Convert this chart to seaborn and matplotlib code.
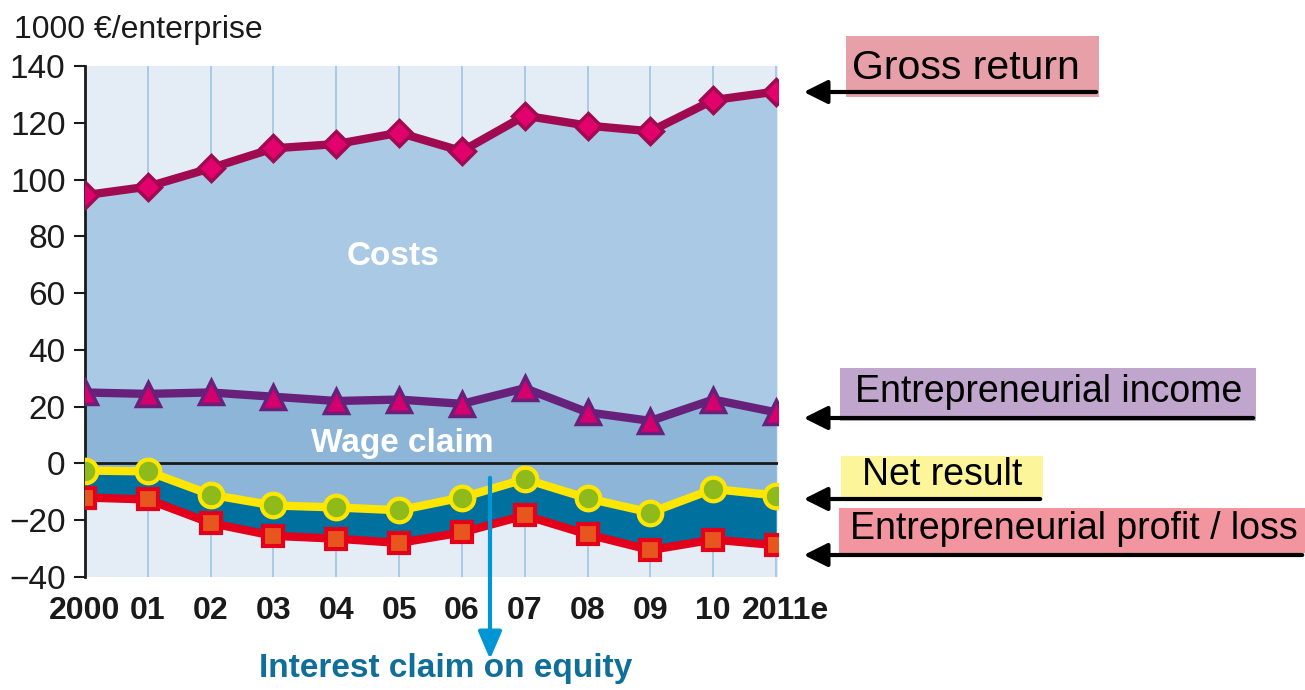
import numpy as np
import pandas as pd
import matplotlib
matplotlib.use("Agg")
import matplotlib.pyplot as plt
import matplotlib.transforms as mtransforms
import seaborn as sns
from matplotlib.patches import Rectangle, FancyArrowPatch

years = ["2000", "01", "02", "03", "04", "05", "06", "07", "08", "09", "10", "2011e"]
gross_return = [94.5, 97.5, 104, 111, 112.5, 116.5, 110, 122.5, 119, 117, 128, 131]
entrepreneurial_income = [25, 24.5, 25, 23.5, 22, 22.5, 21, 26.5, 18, 15, 22.5, 18]
net_result = [-2.5, -2.8, -11, -14.8, -15.5, -16.5, -12, -5.5, -12.3, -17.3, -9, -11.3]
profit_loss = [-12, -12.7, -21, -25.5, -26.5, -28, -24.3, -18.3, -25, -30.5, -26.8, -28.8]
y_ticks = [-40, -20, 0, 20, 40, 60, 80, 100, 120, 140]

df = pd.DataFrame({
    "x": np.arange(len(years)),
    "gross": gross_return,
    "income": entrepreneurial_income,
    "net": net_result,
    "profit": profit_loss,
})

sns.set_style("ticks")
plt.rcParams["font.family"] = ["Liberation Sans", "DejaVu Sans"]

W, H = 1305, 690
fig = plt.figure(figsize=(W / 100, H / 100), dpi=100)
ax = fig.add_axes([85 / W, 1 - 577 / H, (778 - 85) / W, (577 - 66) / H])
ax.set_facecolor("#e4edf5")

x = df["x"]
ax.fill_between(x, df["income"], df["gross"], color="#a9c9e4", lw=0, zorder=1)
ax.fill_between(x, df["net"], df["income"], color="#8cb5d7", lw=0, zorder=1)
ax.fill_between(x, df["profit"], df["net"], color="#00709e", lw=0, zorder=1)
ax.axhline(0, color="#1a1a1a", lw=2, zorder=2)

sns.lineplot(data=df, x="x", y="gross", ax=ax, color="#a00a50", lw=6,
             marker="D", markersize=13, markerfacecolor="#e2006c",
             markeredgecolor="#a00a50", markeredgewidth=2.5, zorder=5)
sns.lineplot(data=df, x="x", y="income", ax=ax, color="#68217a", lw=6,
             marker="^", markersize=17, markerfacecolor="#d4006e",
             markeredgecolor="#68217a", markeredgewidth=2.5, zorder=5)
sns.lineplot(data=df, x="x", y="profit", ax=ax, color="#e2001a", lw=6,
             marker="s", markersize=15, markerfacecolor="#e8561f",
             markeredgecolor="#e2001a", markeredgewidth=3, zorder=5)
sns.lineplot(data=df, x="x", y="net", ax=ax, color="#ffe600", lw=6,
             marker="o", markersize=17, markerfacecolor="#8fba1c",
             markeredgecolor="#ffe600", markeredgewidth=3, zorder=6)

ax.set_xlim(0, 11.03)
ax.set_ylim(-40, 140)
ax.set_xticks(x)
ax.set_xticklabels(years, fontweight="bold", fontsize=23)
ax.set_yticks(y_ticks)
ax.set_yticklabels([str(v).replace("-", "\u2212") for v in y_ticks], fontsize=24)
ax.tick_params(axis="x", length=0, pad=14, colors="#1a1a1a")
ax.tick_params(axis="y", length=8, width=1.5, pad=6, colors="#1a1a1a")
# nudge the last year label right, as in the original
last = ax.get_xticklabels()[-1]
last.set_transform(last.get_transform() +
                   mtransforms.ScaledTranslation(9 / 100, 0, fig.dpi_scale_trans))
ax.grid(axis="x", color="#9fc5e0", lw=1.2, zorder=0)
ax.set_axisbelow(True)
ax.set_xlabel("")
ax.set_ylabel("")
for s in ["top", "right", "bottom"]:
    ax.spines[s].set_visible(False)
ax.spines["left"].set_linewidth(2)
ax.spines["left"].set_color("#1a1a1a")

# area labels
ax.text(4.9, 73, "Costs", color="white", fontweight="bold",
        fontsize=24, ha="center", va="center", zorder=7)
ax.text(5.05, 7, "Wage claim", color="white", fontweight="bold",
        fontsize=24, ha="center", va="center", zorder=7)

fig.text(14 / W, 1 - 38 / H, "1000 \u20ac/enterprise",
         fontsize=23, color="#1a1a1a", ha="left", va="baseline")

# interest claim arrow
fig.add_artist(FancyArrowPatch((490 / W, 1 - 475 / H), (490 / W, 1 - 662 / H),
                               transform=fig.transFigure,
                               arrowstyle="-|>,head_length=1.4,head_width=0.6",
                               color="#0096d6", lw=3, mutation_scale=12))
fig.text(446 / W, 1 - 668 / H, "Interest claim on equity", color="#0f6f98",
         fontweight="bold", fontsize=24, ha="center", va="center")

# right-hand labels: (text, text x, text y, size, box x0, x1, y0, y1, arrow y, colour)
labels = [
    ("Gross return", 852, 68, 29.5, 846, 1099, 36, 97, 92, "#e8a0a8"),
    ("Entrepreneurial income", 855, 392, 27, 840, 1256, 368, 421, 418, "#c0a5cd"),
    ("Net result", 862, 475, 27, 841, 1043, 456, 497, 499, "#fdf59a"),
    ("Entrepreneurial profit / loss", 850, 529, 27, 839, 1305, 508, 553, 555, "#f2959e"),
]
for txt, tx, ty, fs, x0, x1, y0, y1, ya, col in labels:
    fig.add_artist(Rectangle((x0 / W, 1 - y1 / H), (x1 - x0) / W, (y1 - y0) / H,
                             transform=fig.transFigure, color=col, lw=0, zorder=1))
    fig.text(tx / W, 1 - ty / H, txt, fontsize=fs,
             color="black", ha="left", va="center", zorder=2)
    fig.add_artist(FancyArrowPatch((x1 / W, 1 - ya / H), (801 / W, 1 - ya / H),
                                   transform=fig.transFigure,
                                   arrowstyle="-|>,head_length=1.2,head_width=0.6",
                                   color="black", lw=3, mutation_scale=12, zorder=3))

fig.savefig("out.png", dpi=100)
